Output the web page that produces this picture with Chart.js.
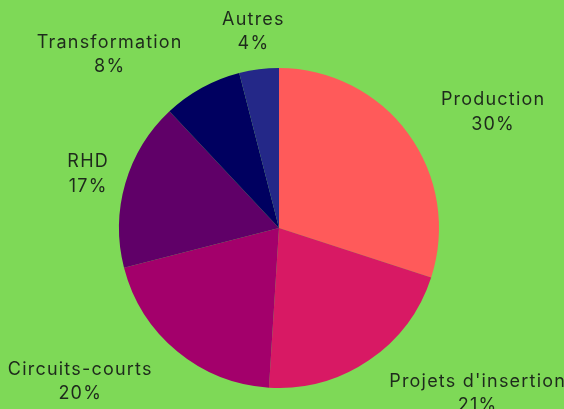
<!DOCTYPE html>
<html>
<head>
<meta charset="utf-8">
<script src="https://cdn.jsdelivr.net/npm/chart.js@4"></script>
<style>
    html, body { margin: 0; padding: 0; background: #7ed957; }
    #wrap { width: 564px; height: 409px; }
</style>
</head>
<body>
<div id="wrap"><canvas id="pieChart" width="564" height="409"></canvas></div>
<script>
const categories = ['Production', "Projets d'insertion", 'Circuits-courts', 'RHD', 'Transformation', 'Autres'];
const values = [30, 21, 20, 17, 8, 4];
const colors = ['#ff5a5a', '#d81964', '#a3006b', '#600068', '#000060', '#242888'];

// placement des étiquettes : décalage d'angle (degrés) et distance au centre
const labelAngleShift = [8.6, -15, 11.8, -2, -16.5, -0.6];
const labelDist = [240.5, 261.6, 255.1, 197.5, 239, 192.8];

const outsideLabels = {
    id: 'outsideLabels',
    afterDatasetsDraw(chart) {
        const ctx = chart.ctx;
        const meta = chart.getDatasetMeta(0);
        ctx.save();
        ctx.fillStyle = '#1e2a1c';
        ctx.font = '18px Inter, "Noto Sans", sans-serif';
        ctx.letterSpacing = '1.2px';
        ctx.textAlign = 'center';
        ctx.textBaseline = 'alphabetic';
        meta.data.forEach((arc, i) => {
            const mid = (arc.startAngle + arc.endAngle) / 2 + labelAngleShift[i] * Math.PI / 180;
            const x = arc.x + Math.cos(mid) * labelDist[i];
            const y = arc.y + Math.sin(mid) * labelDist[i];
            ctx.fillText(categories[i], x + 0.6, y - 12.2);
            ctx.fillText(values[i] + '%', x + 0.6, y + 12.2);
        });
        ctx.restore();
    }
};

const pieCtx = document.getElementById('pieChart').getContext('2d');
const pieChart = new Chart(pieCtx, {
    type: 'pie',
    data: {
        labels: categories,
        datasets: [{
            data: values,
            backgroundColor: colors,
            borderWidth: 0
        }]
    },
    options: {
        responsive: false,
        animation: false,
        layout: {
            padding: { left: 119, right: 125, top: 68, bottom: 21 }
        },
        plugins: {
            legend: { display: false },
            tooltip: { enabled: false }
        }
    },
    plugins: [outsideLabels]
});
</script>
</body>
</html>
